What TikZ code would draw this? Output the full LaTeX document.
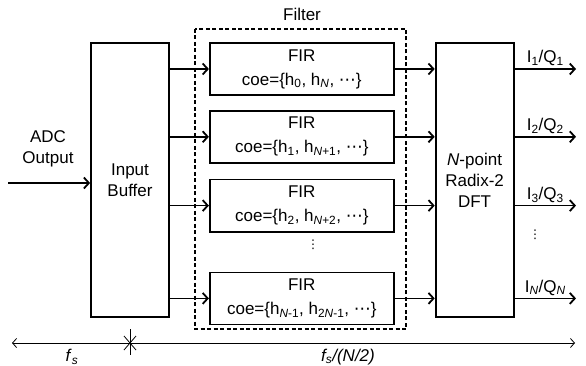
\documentclass[tikz,border=0pt]{standalone}
\usepackage{fontspec}
\setmainfont{Liberation Sans}
\newfontfamily\dotsfont{DejaVu Sans}
\usetikzlibrary{arrows.meta,positioning,calc}
\tikzset{
  blockbox/.style={
    draw=black,
    line width=1.8pt,
    fill=white,
    minimum width=78pt,
    minimum height=274pt,
    inner sep=0pt,
    align=center,
    font=\fontsize{17}{21}\selectfont
  },
  firbox/.style={
    draw=black,
    line width=1.8pt,
    minimum width=184pt,
    minimum height=52pt,
    inner sep=0pt,
    align=center,
    font=\fontsize{17}{24}\selectfont
  },
  label/.style={
    font=\fontsize{17}{21}\selectfont,
    align=center,
    inner sep=1pt
  },
  vdotsnode/.style={
    font=\dotsfont\fontsize{12}{14}\selectfont,
    inner sep=0pt
  },
  arrow/.style={
    -{Straight Barb[length=5pt,width=11pt]},
    line width=1.8pt
  },
  rate/.style={
    {Straight Barb[length=4pt,width=9pt]}-{Straight Barb[length=4pt,width=9pt]},
    line width=0.8pt
  }
}
\newcommand{\sbi}[1]{\textsubscript{\textit{#1}}}
\newcommand{\hdots}{{\dotsfont ⋯}}
\begin{document}
\begin{tikzpicture}[x=1pt,y=-1pt]
\useasboundingbox (0,0) rectangle (586,366);
% input side
\node[blockbox] (buffer) at (130,180) {Input\\Buffer};
\node[label] (adc) at (48,149) {ADC\\Output};
\coordinate (adcin) at (8,183);
\draw[arrow] (adcin) -- (adcin -| buffer.west);
% polyphase filter bank
\node[firbox, below right=0pt and 39pt of buffer.north east] (fir0) {FIR\\coe=\{h\textsubscript{0}, h\sbi{N}, \hdots\}};
\node[firbox, below=14pt of fir0] (fir1) {FIR\\coe=\{h\textsubscript{1}, h\textsubscript{\textit{N}+1}, \hdots\}};
\node[firbox, below=15pt of fir1] (fir2) {FIR\\coe=\{h\textsubscript{2}, h\textsubscript{\textit{N}+2}, \hdots\}};
\node[firbox, below=39pt of fir2] (fir3) {FIR\\coe=\{h\textsubscript{\textit{N}-1}, h\textsubscript{2\textit{N}-1}, \hdots\}};
\node[vdotsnode] (firdots) at (313,245) {⋮};
\draw[line width=1.6pt, dash pattern=on 4pt off 2.5pt] (195,29) rectangle (406,329);
\node[label] (filter) at (302,14) {Filter};
% DFT
\node[blockbox, below right=0pt and 40pt of fir0.north east] (dft) {\textit{N}-point\\Radix-2\\DFT};
\foreach \k/\lab in {0/1, 1/2, 2/3, 3/\textit{N}} {
  \draw[arrow] (fir\k.west -| buffer.east) -- (fir\k.west);
  \draw[arrow] (fir\k.east) -- (fir\k.east -| dft.west);
  \coordinate (out\k) at (576,0 |- fir\k.east);
  \draw[arrow] (fir\k.east -| dft.east) -- (out\k)
    node[label, midway, above=1pt] {I\textsubscript{\lab}/Q\textsubscript{\lab}};
}
\node[vdotsnode] (outdots) at (535,235) {⋮};
% sample rates
\coordinate (rl) at (12,343);
\coordinate (rm) at (130,343);
\coordinate (rr) at (575,343);
\draw[rate] (rl) -- (rr);
\draw[line width=0.8pt] ($(rm)+(0,-14)$) -- ($(rm)+(0,12)$);
\draw[line width=0.8pt] ($(rm)+(-6,-7)$) -- ($(rm)+(6,7)$);
\draw[line width=0.8pt] ($(rm)+(-6,7)$) -- ($(rm)+(6,-7)$);
\node[label] (fslow) at (72,357) {\textit{f}\textsubscript{\textit{s}}};
\node[label] (fshigh) at (348,357) {\textit{f\textsubscript{s}}\textit{/(N/2)}};
\end{tikzpicture}
\end{document}
